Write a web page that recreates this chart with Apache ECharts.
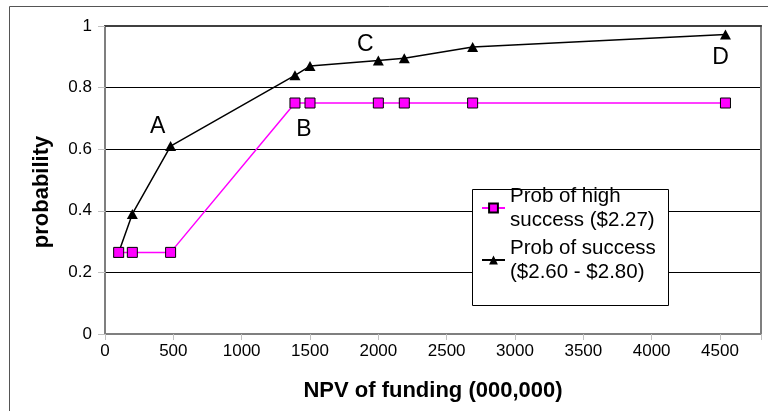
<!DOCTYPE html>
<html>
<head>
<meta charset="utf-8">
<title>Probability vs NPV of funding</title>
<script src="https://cdn.jsdelivr.net/npm/echarts@6/dist/echarts.min.js"></script>
<style>
  html, body { margin: 0; padding: 0; background: #fff; }
  #chart { width: 768px; height: 411px; }
</style>
</head>
<body>
<div id="chart"></div>
<script>
// NPV of funding (000,000) at each evaluated point
const npv = [100, 200, 480, 1390, 1500, 2000, 2190, 2690, 4540];
// Probability of high success ($2.27)
const highSuccess = [0.265, 0.265, 0.265, 0.75, 0.75, 0.75, 0.75, 0.75, 0.75];
// Probability of success ($2.60 - $2.80)
const success = [0.265, 0.39, 0.61, 0.84, 0.87, 0.888, 0.895, 0.932, 0.972];

const nameHigh = 'Prob of high success ($2.27)';
const nameSuccess = 'Prob of success ($2.60 - $2.80)';
const legendLines = {};
legendLines[nameHigh] = 'Prob of high\nsuccess ($2.27)';
legendLines[nameSuccess] = 'Prob of success\n($2.60 - $2.80)';

// Letter tags attached to points: series key, point index, label offset
const tags = [
  { text: 'A', series: 'success', index: 2, offset: [-13, -19] },
  { text: 'B', series: 'high', index: 3, offset: [9, 27] },
  { text: 'C', series: 'success', index: 5, offset: [-13, -16] },
  { text: 'D', series: 'success', index: 8, offset: [-5, 23] }
];

const font = '"Liberation Sans", Arial, sans-serif';

function buildData(values, key) {
  return npv.map((x, i) => {
    const item = { value: [x, values[i]] };
    const tag = tags.find(t => t.series === key && t.index === i);
    if (tag) {
      item.label = {
        show: true,
        position: 'inside',
        offset: tag.offset,
        formatter: tag.text,
        fontSize: 23,
        fontFamily: font,
        color: '#000'
      };
    }
    return item;
  });
}

function legendFor(name, top) {
  return {
    data: [name],
    orient: 'vertical',
    left: 481,
    top: top,
    padding: 0,
    itemWidth: 23,
    itemHeight: 11,
    selectedMode: false,
    formatter: n => legendLines[n],
    textStyle: {
      fontSize: 20.5,
      lineHeight: 24,
      fontFamily: font,
      color: '#000',
      padding: [24, 0, 0, 0]
    }
  };
}

const chart = echarts.init(document.getElementById('chart'), null, { renderer: 'canvas' });

chart.setOption({
  backgroundColor: '#fff',
  animation: false,
  grid: {
    left: 105, right: 7, top: 26, bottom: 77,
    show: true,
    borderColor: '#7f7f7f',
    borderWidth: 2,
    backgroundColor: '#fff'
  },
  graphic: [
    {
      type: 'rect',
      silent: true,
      z: 0,
      shape: { x: 9.5, y: 6.5, width: 900, height: 600 },
      style: { fill: 'none', stroke: '#555', lineWidth: 1 }
    },
    {
      type: 'rect',
      silent: true,
      z: 3,
      shape: { x: 472.5, y: 189.5, width: 196, height: 116 },
      style: { fill: '#fff', stroke: '#000', lineWidth: 1 }
    }
  ],
  legend: [
    legendFor(nameHigh, 172),
    legendFor(nameSuccess, 224)
  ],
  xAxis: [
    {
      type: 'value',
      min: 0,
      max: 4800,
      interval: 500,
      name: 'NPV of funding (000,000)',
      nameLocation: 'middle',
      nameGap: 46,
      nameTextStyle: { fontSize: 22, fontWeight: 'bold', fontFamily: font, color: '#000' },
      axisLine: { show: true, onZero: false, lineStyle: { color: '#7f7f7f', width: 2 } },
      axisTick: { show: true, length: 6, lineStyle: { color: '#c0c0c0', width: 1 } },
      axisLabel: {
        fontSize: 17, fontFamily: font, color: '#000', margin: 9,
        formatter: v => (v > 4500 ? '' : String(v))
      },
      splitLine: { show: false }
    },
    {
      // top frame edge of the plot
      type: 'value',
      position: 'top',
      min: 0,
      max: 4800,
      axisLine: { show: true, onZero: false, lineStyle: { color: '#404040', width: 2 } },
      axisTick: { show: false },
      axisLabel: { show: false },
      splitLine: { show: false }
    }
  ],
  yAxis: [
    {
      type: 'value',
      min: 0,
      max: 1,
      interval: 0.2,
      name: 'probability',
      nameLocation: 'middle',
      nameGap: 52,
      nameTextStyle: {
        fontSize: 22, fontWeight: 'bold', fontFamily: font, color: '#000',
        padding: [0, 24, 0, 0]
      },
      axisLine: { show: true, onZero: false, lineStyle: { color: '#7f7f7f', width: 2 } },
      axisTick: { show: true, length: 7, lineStyle: { color: '#c0c0c0', width: 1 } },
      axisLabel: { fontSize: 17, fontFamily: font, color: '#000', margin: 13 },
      splitLine: { show: true, lineStyle: { color: '#000', width: 1 } }
    },
    {
      // right frame edge of the plot
      type: 'value',
      position: 'right',
      min: 0,
      max: 1,
      axisLine: { show: true, onZero: false, lineStyle: { color: '#7f7f7f', width: 2 } },
      axisTick: { show: false },
      axisLabel: { show: false },
      splitLine: { show: false }
    }
  ],
  series: [
    {
      name: nameSuccess,
      type: 'line',
      data: buildData(success, 'success'),
      symbol: 'triangle',
      symbolSize: [11, 10],
      showAllSymbol: true,
      lineStyle: { color: '#000', width: 1.5 },
      itemStyle: { color: '#000', borderColor: '#000', borderWidth: 0 },
      z: 2
    },
    {
      name: nameHigh,
      type: 'line',
      data: buildData(highSuccess, 'high'),
      symbol: 'rect',
      symbolSize: 10,
      showAllSymbol: true,
      lineStyle: { color: '#ff00ff', width: 1.5 },
      itemStyle: { color: '#ff00ff', borderColor: '#000', borderWidth: 1 },
      z: 2
    }
  ]
});
</script>
</body>
</html>
